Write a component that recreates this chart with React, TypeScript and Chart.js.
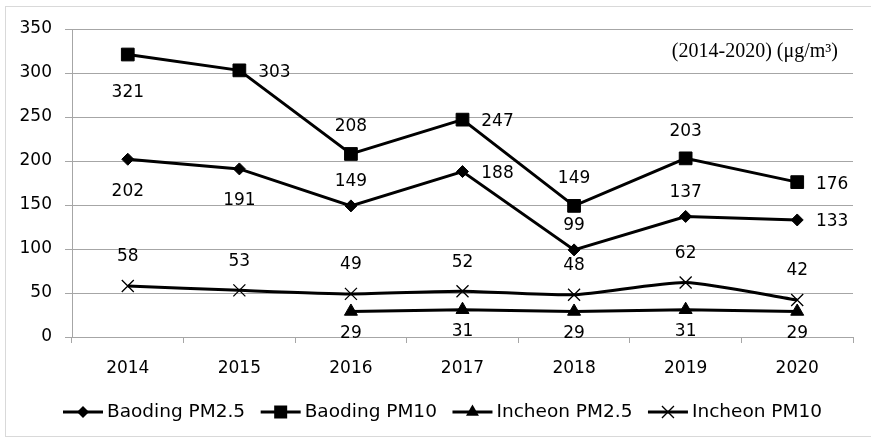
import React, { useEffect, useRef } from 'react';
import { Chart, registerables } from 'chart.js';

Chart.register(...registerables);

const years = ['2014', '2015', '2016', '2017', '2018', '2019', '2020'];
const baodingPM25 = [202, 191, 149, 188, 99, 137, 133];
const baodingPM10 = [321, 303, 208, 247, 149, 203, 176];
const incheonPM25 = [null, null, 29, 31, 29, 31, 29];
const incheonPM10 = [58, 53, 49, 52, 48, 62, 42];
const seriesNames = ['Baoding PM2.5', 'Baoding PM10', 'Incheon PM2.5', 'Incheon PM10'];
const yMin = 0;
const yMax = 350;
const yStep = 50;
const noteText = '(2014-2020) (\u03bcg/m\u00b3)';

// label placement per point: a = above, b = below, r = right
const posBaodingPM25 = ['b', 'b', 'a', 'r', 'a', 'a', 'r'];
const posBaodingPM10 = ['b', 'r', 'a', 'r', 'a', 'a', 'r'];
const posIncheonPM25 = ['b', 'b', 'b', 'b', 'b', 'b', 'b'];
const posIncheonPM10 = ['a', 'a', 'a', 'a', 'a', 'a', 'a'];

const FONT = '"DejaVu Sans", sans-serif';
const FS = 17;
const LEGEND_FS = 18.5;
const GRID = '#a6a6a6';

type Style = 'rectRot' | 'rect' | 'triangle' | 'crossRot';

function drawMarker(ctx: CanvasRenderingContext2D, style: Style, x: number, y: number) {
  ctx.save();
  ctx.fillStyle = '#000';
  ctx.strokeStyle = '#000';
  ctx.beginPath();
  if (style === 'rectRot') {
    const r = 6;
    ctx.moveTo(x - r, y);
    ctx.lineTo(x, y - r);
    ctx.lineTo(x + r, y);
    ctx.lineTo(x, y + r);
    ctx.closePath();
    ctx.fill();
  } else if (style === 'rect') {
    const s = 6.5;
    ctx.rect(x - s, y - s, 2 * s, 2 * s);
    ctx.fill();
  } else if (style === 'triangle') {
    const r = 7.5;
    ctx.moveTo(x, y - r);
    ctx.lineTo(x + r * 0.866, y + r * 0.5);
    ctx.lineTo(x - r * 0.866, y + r * 0.5);
    ctx.closePath();
    ctx.fill();
  } else {
    const s = 6;
    ctx.lineWidth = 1.3;
    ctx.moveTo(x - s, y - s);
    ctx.lineTo(x + s, y + s);
    ctx.moveTo(x + s, y - s);
    ctx.lineTo(x - s, y + s);
    ctx.stroke();
  }
  ctx.restore();
}

const labelCfg = [
  { pos: posBaodingPM25, above: -24, below: 32 },
  { pos: posBaodingPM10, above: -27, below: 38 },
  { pos: posIncheonPM25, above: -27, below: 22 },
  { pos: posIncheonPM10, above: -29, below: 30 },
];
const styles: Style[] = ['rectRot', 'rect', 'triangle', 'crossRot'];

const decorPlugin = {
  id: 'decor',
  beforeDraw(chart: any) {
    const ctx = chart.ctx as CanvasRenderingContext2D;
    ctx.save();
    ctx.strokeStyle = '#d9d9d9';
    ctx.lineWidth = 1;
    ctx.strokeRect(5.5, 6.5, 900, 430);
    ctx.restore();
  },
  afterDatasetsDraw(chart: any) {
    const ctx = chart.ctx as CanvasRenderingContext2D;
    ctx.save();
    ctx.font = `${FS}px ${FONT}`;
    ctx.fillStyle = '#000';
    ctx.textAlign = 'center';
    ctx.textBaseline = 'middle';
    chart.data.datasets.forEach((ds: any, i: number) => {
      const meta = chart.getDatasetMeta(i);
      const cfg = labelCfg[i];
      meta.data.forEach((el: any, j: number) => {
        const v = ds.data[j];
        if (v === null || v === undefined) return;
        const p = cfg.pos[j];
        let dx = 0;
        let dy = 0;
        if (p === 'a') dy = cfg.above;
        else if (p === 'b') dy = cfg.below;
        else {
          dx = 35;
          dy = 2;
        }
        ctx.fillText(String(v), el.x + dx, el.y + dy);
      });
    });
    ctx.restore();
  },
  afterDraw(chart: any) {
    const ctx = chart.ctx as CanvasRenderingContext2D;
    const area = chart.chartArea;
    ctx.save();
    // note
    ctx.font = '20px "Liberation Serif", "Times New Roman", serif';
    ctx.fillStyle = '#000';
    ctx.textAlign = 'right';
    ctx.textBaseline = 'middle';
    ctx.fillText(noteText, area.right - 15, area.top + 23);
    // legend
    ctx.font = `${LEGEND_FS}px ${FONT}`;
    ctx.textAlign = 'left';
    const lineLen = 40;
    const gapText = 4;
    const left = 63;
    const right = 822;
    const widths = seriesNames.map((n) => ctx.measureText(n).width);
    const content = widths.reduce((a, w) => a + lineLen + gapText + w, 0);
    const gapItem = (right - left - content) / (seriesNames.length - 1);
    let x = left;
    const y = 412;
    seriesNames.forEach((n, i) => {
      ctx.strokeStyle = '#000';
      ctx.lineWidth = 3;
      ctx.beginPath();
      ctx.moveTo(x, y);
      ctx.lineTo(x + lineLen, y);
      ctx.stroke();
      drawMarker(ctx, styles[i], x + lineLen / 2, y);
      ctx.fillStyle = '#000';
      ctx.fillText(n, x + lineLen + gapText, y);
      x += lineLen + gapText + widths[i] + gapItem;
    });
    ctx.restore();
  },
};

export default function App() {
  const ref = useRef<HTMLCanvasElement>(null);
  useEffect(() => {
    document.body.style.margin = '0';
    const canvas = ref.current;
    if (!canvas) return;
    const common = {
      borderColor: '#000',
      backgroundColor: '#000',
      pointBackgroundColor: '#000',
      pointBorderColor: '#000',
      borderWidth: 3,
      spanGaps: false,
    };
    const chart = new Chart(canvas, {
      type: 'line',
      data: {
        labels: years,
        datasets: [
          { ...common, label: seriesNames[0], data: baodingPM25, pointStyle: 'rectRot', pointRadius: 6, pointBorderWidth: 1, tension: 0 },
          { ...common, label: seriesNames[1], data: baodingPM10, pointStyle: 'rect', pointRadius: 9, pointBorderWidth: 1, tension: 0 },
          { ...common, label: seriesNames[2], data: incheonPM25, pointStyle: 'triangle', pointRadius: 7.5, pointBorderWidth: 1, tension: 0 },
          { ...common, label: seriesNames[3], data: incheonPM10, pointStyle: 'crossRot', pointRadius: 8.5, pointBorderWidth: 1.3, tension: 0.2 },
        ],
      },
      options: {
        responsive: false,
        animation: false,
        layout: { padding: { top: 29, right: 18, bottom: 0, left: 0 } },
        plugins: { legend: { display: false }, tooltip: { enabled: false } },
        scales: {
          x: {
            offset: true,
            grid: { display: true, drawOnChartArea: false, drawTicks: true, tickLength: 6, color: GRID, offset: true },
            border: { color: GRID },
            ticks: { color: '#000', font: { family: FONT, size: FS }, padding: 15 },
            afterFit: (s: any) => {
              s.height = 102;
            },
          },
          y: {
            min: yMin,
            max: yMax,
            ticks: { stepSize: yStep, color: '#000', font: { family: FONT, size: FS }, padding: 13 },
            grid: { color: GRID, tickLength: 7, drawTicks: true },
            border: { color: GRID },
            afterFit: (s: any) => {
              s.width = 72;
            },
          },
        },
      },
      plugins: [decorPlugin],
    } as any);
    return () => chart.destroy();
  }, []);
  return (
    <div style={{ width: 871, height: 439, position: 'relative', background: '#fff' }}>
      <canvas ref={ref} width={871} height={439} style={{ display: 'block' }} />
    </div>
  );
}
